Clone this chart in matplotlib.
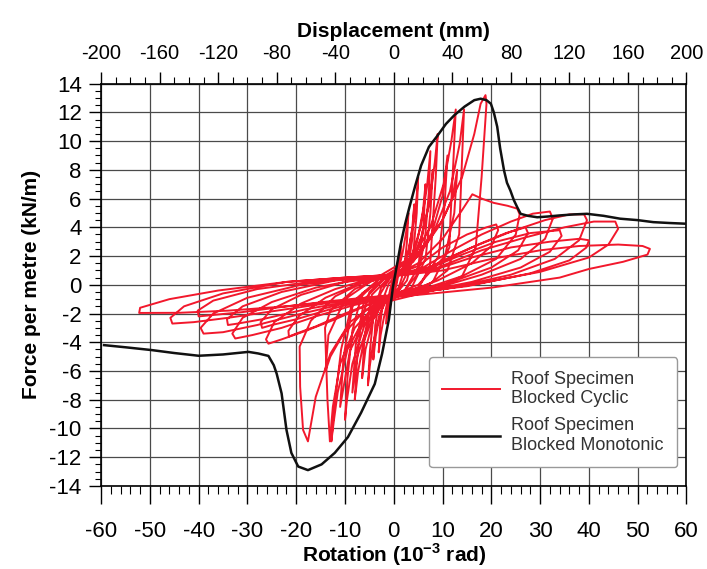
import matplotlib
matplotlib.use("Agg")
from matplotlib import pyplot as plt
from matplotlib.ticker import MultipleLocator, FixedLocator

plt.rcParams['font.family'] = ['Liberation Sans', 'DejaVu Sans']
plt.rcParams['axes.unicode_minus'] = False
plt.rcParams['mathtext.fontset'] = 'custom'
plt.rcParams['mathtext.rm'] = 'Liberation Sans'
plt.rcParams['mathtext.bf'] = 'Liberation Sans:bold'

# top axis ticks, displacement (mm)
disp_ticks = [-200, -160, -120, -80, -40, 0, 40, 80, 120, 160, 200]

# monotonic test, rotation (10^-3 rad) vs force (kN/m)
mono_rot = [-59.4, -55, -49.5, -45, -40, -35, -29.8, -27.8, -25.7, -24.6, -24.0,
            -23.0, -22.0, -21.0, -19.6, -17.6, -14.8, -12.1, -9.4, -6.7, -3.9,
            -2.4, -1.0, -0.2, 0.6, 1.4, 2.3, 3.2, 4.4, 5.6, 7.2, 9.0, 10.7, 12.4,
            14.5, 16.5, 17.8, 19.0, 19.9, 20.5, 21.2, 21.8, 22.6, 23.2, 23.9,
            24.6, 25.3, 26.0, 27.5, 29.4, 31.5, 34.1, 37, 39.6, 43, 46.4, 50,
            53.2, 56.5, 59.9]
mono_force = [-4.2, -4.35, -4.55, -4.75, -4.94, -4.85, -4.67, -4.78, -4.95, -5.6,
              -6.2, -7.56, -10.1, -11.7, -12.65, -12.9, -12.5, -11.7, -10.6,
              -8.9, -6.9, -4.8, -2.4, -0.2, 1.3, 2.8, 4.2, 5.4, 6.9, 8.3, 9.6,
              10.4, 11.2, 11.8, 12.4, 12.85, 12.95, 12.85, 12.6, 12.0, 11.0, 9.5,
              7.95, 7.1, 6.56, 5.9, 5.4, 4.94, 4.8, 4.7, 4.75, 4.83, 4.9, 4.94,
              4.8, 4.6, 4.5, 4.36, 4.3, 4.25]

# cyclic test, one list of (rotation, force) points per cycle
cyc_a = [(0, 0), (0.6, 0.9), (1.2, 2.2), (1.0, 1.1), (0.4, 0.0), (-0.5, -0.8),
         (-1.2, -2.2), (-1.0, -1.0), (-0.3, 0.1), (0.5, 0.8), (1.5, 2.7),
         (1.2, 1.2), (0.5, -0.1), (-0.6, -0.9), (-1.6, -2.7), (-1.3, -1.2),
         (-0.4, 0.2)]
cyc_b = [(0.8, 0.9), (1.8, 2.2), (2.5, 3.6), (3.0, 5.0), (2.7, 3.0), (2.1, 1.0),
         (1.0, -0.2), (-0.2, -0.6), (-1.2, -1.0), (-2.1, -2.4), (-2.7, -3.5),
         (-3.1, -4.7), (-2.8, -2.8), (-2.1, -0.9), (-1.0, 0.1), (0, 0.5)]
cyc_c = [(1.5, 0.9), (3.0, 2.4), (4.2, 4.6), (4.7, 6.2), (5.0, 7.5), (4.7, 5.0),
         (4.0, 2.2), (2.7, 0.3), (0.8, -0.5), (-1.5, -0.9), (-3.0, -2.2),
         (-4.3, -4.2), (-4.9, -5.6), (-5.3, -7.0), (-4.9, -4.6), (-4.1, -1.9),
         (-2.6, -0.2), (-0.6, 0.5)]
cyc_c2 = [(1.5, 0.8), (3.0, 2.2), (3.8, 4.0), (4.2, 5.6), (3.8, 3.2), (2.8, 0.9),
          (1.0, -0.4), (-1.2, -0.8), (-2.8, -2.0), (-3.7, -3.6), (-4.2, -5.2),
          (-3.8, -2.8), (-2.7, -0.6), (-0.8, 0.5)]
cyc_d = [(1.5, 0.7), (3.5, 1.8), (5.5, 4.0), (6.8, 6.8), (7.5, 9.3), (7.2, 6.5),
         (6.4, 3.2), (5.0, 0.8), (2.0, -0.5), (-1.0, -0.9), (-4.0, -2.0),
         (-6.2, -4.0), (-7.3, -6.0), (-8.0, -8.0), (-7.6, -5.5), (-6.8, -2.8),
         (-5.0, -0.5), (-2.0, 0.4), (0, 0.6)]
cyc_d2 = [(2.5, 1.0), (4.8, 3.0), (6.0, 5.2), (6.5, 7.0), (6.1, 4.2), (5.0, 1.2),
          (2.2, -0.4), (-1.5, -0.9), (-4.2, -2.4), (-5.8, -4.5), (-6.5, -6.5),
          (-6.0, -3.6), (-4.5, -0.7), (-1.0, 0.5)]
cyc_e = [(2, 0.8), (5, 2.5), (7.2, 5.5), (8.4, 8.5), (9.0, 10.5), (8.6, 7.5),
         (7.9, 3.8), (7.4, 1.2), (5, -0.2), (1, -0.7), (-3, -1.3), (-6, -2.8),
         (-8.5, -5.5), (-9.6, -8.0), (-10.0, -9.4), (-9.5, -6.5), (-8.5, -3.2),
         (-6.5, -0.6), (-2, 0.4), (0.5, 0.7)]
cyc_e2 = [(3, 1.2), (5.8, 3.4), (7.4, 6.0), (8.0, 8.0), (7.5, 5.0), (6.5, 1.8),
          (3.5, -0.3), (-1.5, -0.9), (-5, -2.5), (-7.5, -5.0), (-8.5, -7.5),
          (-7.8, -4.2), (-6, -1.0), (-2, 0.4)]
cyc_f = [(4, 2.0), (7.5, 4.0), (10.2, 7.0), (11.8, 10.0), (12.7, 12.2),
         (12.2, 8.5), (11.6, 4.5), (11.4, 2.6), (8, 0.2), (3, -0.6), (-2, -1.1),
         (-6, -2.3), (-9.5, -4.5), (-11.5, -7.5), (-12.3, -9.5), (-12.8, -10.9),
         (-12.2, -8.5), (-10.8, -4.5), (-8.5, -1.2), (-3, 0.4), (1, 0.8)]
cyc_f2 = [(4, 1.6), (7.8, 3.6), (10, 6.2), (11, 9.0), (10.4, 5.5), (9.2, 2.0),
          (5, -0.2), (-1, -0.8), (-5.5, -2.2), (-9, -4.6), (-11, -8.5),
          (-10.3, -5.0), (-8.4, -1.4), (-3, 0.4)]
cyc_g = [(4, 1.8), (8, 3.5), (11.5, 6.5), (13.5, 9.8), (14.4, 12.2), (13.9, 8.0),
         (13.4, 3.5), (11, 1.0), (6, -0.3), (1, -0.8), (-4, -1.5), (-8, -3.0),
         (-11, -5.5), (-12.5, -8.5), (-13.1, -10.9), (-13.6, -8.0),
         (-14.1, -3.0), (-13, -1.8), (-8, -0.3), (-3, 0.5), (1, 0.9)]
cyc_g2 = [(5, 2.0), (9.5, 4.2), (12, 6.0), (13, 8.0), (12.4, 5.0), (10.5, 2.0),
          (5, 0.0), (-1, -0.8), (-6, -1.8), (-10.5, -3.5), (-13, -5.0),
          (-14, -6.0), (-13.4, -3.5), (-10, -1.0), (-4, 0.4)]
cyc_h = [(5, 2.2), (10, 4.5), (14, 7.5), (16.5, 10.5), (17.8, 12.6),
         (18.8, 13.2), (19.0, 12.6), (18.0, 7.5), (16.8, 2.6), (14, 0.6),
         (8, -0.4), (2, -0.9), (-4, -1.4), (-9, -2.6), (-13, -4.8), (-16, -7.8),
         (-17.6, -10.9), (-18.6, -10.1), (-19.2, -7.1), (-19.3, -4.3),
         (-17, -2.5), (-12, -0.8), (-6, 0.2), (0, 0.6)]
cyc_i = [(5, 1.5), (10, 3.2), (14, 5.2), (16.1, 6.3), (18, 6.0), (20.5, 5.7),
         (23.3, 5.5), (25.3, 5.3), (25.8, 4.9), (25, 3.5), (21, 1.8), (14, 0.6),
         (6, -0.3), (0, -0.8), (-6, -1.5), (-12, -2.4), (-18, -3.2),
         (-23, -3.8), (-25.7, -4.1), (-26.2, -3.8), (-24.5, -2.6),
         (-19, -1.3), (-12, -0.3), (-5, 0.4), (0, 0.7)]
cyc_i2 = [(5, 1.3), (10, 2.6), (15, 3.5), (19, 4.0), (21, 4.2), (21.4, 3.8),
          (20, 2.7), (16, 1.5), (9, 0.3), (2, -0.6), (-4, -1.2), (-10, -2.0),
          (-16, -2.9), (-20, -3.4), (-21.5, -3.6), (-21.6, -3.2), (-19.5, -2.2),
          (-14, -0.9), (-7, 0.1), (0, 0.6)]
cyc_j = [(6, 1.2), (12, 2.4), (18, 3.5), (24, 4.4), (28.5, 4.95), (32, 5.1),
         (32.6, 4.6), (31, 3.2), (26, 1.8), (18, 0.7), (9, -0.2), (0, -0.8),
         (-8, -1.4), (-16, -2.2), (-23, -3.0), (-29, -3.5), (-32.5, -3.74),
         (-33.1, -3.4), (-31, -2.3), (-25, -1.2), (-16, -0.2), (-7, 0.4),
         (0, 0.7)]
cyc_j2 = [(6, 1.0), (12, 2.0), (18, 2.9), (23, 3.6), (27, 4.0), (27.5, 3.6),
          (25.5, 2.4), (20, 1.2), (11, 0.1), (2, -0.6), (-6, -1.1), (-13, -1.7),
          (-20, -2.4), (-25, -2.8), (-27, -3.0), (-27.3, -2.6), (-25, -1.7),
          (-19, -0.7), (-10, 0.2), (0, 0.6)]
cyc_k = [(8, 1.3), (16, 2.6), (24, 3.7), (31, 4.5), (36, 4.9), (39, 4.9),
         (39.6, 4.5), (38, 3.1), (33, 1.8), (24, 0.7), (12, -0.2), (0, -0.8),
         (-10, -1.3), (-20, -2.1), (-28, -2.8), (-35, -3.3), (-39, -3.4),
         (-39.6, -3.0), (-37, -2.0), (-30, -0.9), (-19, 0.0), (-8, 0.5),
         (0, 0.7)]
cyc_k2 = [(7, 1.1), (14, 2.1), (21, 3.0), (28, 3.6), (34, 3.8), (34.4, 3.4),
          (32, 2.3), (26, 1.2), (16, 0.2), (4, -0.6), (-8, -1.1), (-18, -1.7),
          (-27, -2.4), (-32, -2.7), (-34, -2.8), (-34.2, -2.4), (-31, -1.5),
          (-23, -0.5), (-12, 0.3), (0, 0.6)]
cyc_l = [(9, 1.2), (18, 2.4), (27, 3.3), (35, 4.0), (41, 4.4), (45.4, 4.4),
         (46, 3.9), (44, 2.8), (40, 1.9), (30, 0.9), (16, 0.0), (0, -0.8),
         (-12, -1.2), (-24, -1.8), (-34, -2.3), (-41, -2.6), (-45.4, -2.7),
         (-45.8, -2.3), (-43, -1.5), (-35, -0.6), (-22, 0.2), (-10, 0.5),
         (0, 0.7)]
cyc_l2 = [(8, 1.0), (16, 1.9), (24, 2.6), (32, 3.0), (38, 3.2), (40, 3.1),
          (39.5, 2.6), (36, 1.7), (28, 0.8), (15, -0.1), (0, -0.7), (-12, -1.1),
          (-22, -1.5), (-31, -1.9), (-37, -2.1), (-40, -2.2), (-40.2, -1.8),
          (-37, -1.1), (-28, -0.3), (-15, 0.3), (0, 0.6)]
cyc_m = [(10, 1.0), (20, 1.8), (30, 2.4), (38, 2.7), (46, 2.8), (51, 2.7),
         (52.5, 2.5), (52, 2.1), (47, 1.6), (40, 1.1), (34, 0.5), (20, -0.2),
         (5, -0.7), (-10, -1.1), (-22, -1.5), (-34, -1.8), (-44, -1.95),
         (-52.2, -1.96), (-52, -1.6), (-46, -1.0), (-36, -0.4), (-22, 0.2),
         (-10, 0.5), (0, 0.7)]

cycles = [cyc_a, cyc_b, cyc_c, cyc_c2, cyc_d, cyc_d2, cyc_e, cyc_e2, cyc_f,
          cyc_f2, cyc_g, cyc_g2, cyc_h, cyc_i, cyc_i2, cyc_j, cyc_j2, cyc_k,
          cyc_k2, cyc_l, cyc_l2, cyc_m]
cyc_pts = [p for c in cycles for p in c]
cyc_rot = [p[0] for p in cyc_pts]
cyc_force = [p[1] for p in cyc_pts]

fig = plt.figure(figsize=(7.07, 5.69), dpi=100)
ax = fig.add_axes([0.143, 0.146, 0.828, 0.707])

ax.plot(cyc_rot, cyc_force, color='#f2182c', lw=1.4,
        label='Roof Specimen\nBlocked Cyclic', zorder=3)
ax.plot(mono_rot, mono_force, color='#111111', lw=1.8,
        label='Roof Specimen\nBlocked Monotonic', zorder=4)

ax.set_xlim(-60, 60)
ax.set_ylim(-14, 14)
ax.xaxis.set_major_locator(MultipleLocator(10))
ax.xaxis.set_minor_locator(MultipleLocator(2))
ax.yaxis.set_major_locator(MultipleLocator(2))
ax.yaxis.set_minor_locator(MultipleLocator(0.5))
ax.grid(True, which='major', color='#4a4a4a', lw=0.9)
ax.set_axisbelow(True)

ax.tick_params(axis='x', which='major', direction='out', length=13, width=1,
               labelsize=16, pad=12)
ax.tick_params(axis='x', which='minor', direction='out', length=6, width=0.8)
ax.tick_params(axis='y', which='major', direction='out', length=9, width=1,
               labelsize=16, pad=5)
ax.tick_params(axis='y', which='minor', direction='out', length=4, width=0.8)
for s in ax.spines.values():
    s.set_linewidth(1.2)

ax.set_xlabel(r'Rotation (10$^{\mathbf{-3}}$ rad)', fontsize=15,
              fontweight='bold', labelpad=0)
ax.set_ylabel('Force per metre (kN/m)', fontsize=15, fontweight='bold',
              labelpad=6)

top = ax.secondary_xaxis('top', functions=(lambda r: r * 10 / 3,
                                           lambda d: d * 3 / 10))
top.set_xticks(disp_ticks)
top.xaxis.set_minor_locator(FixedLocator(list(range(-190, 200, 10))))
top.tick_params(which='major', direction='out', length=9, width=1,
                labelsize=14.5, pad=6)
top.tick_params(which='minor', direction='out', length=5, width=0.8)
top.set_xlabel('Displacement (mm)', fontsize=15, fontweight='bold', labelpad=5)

leg = ax.legend(loc='upper left', bbox_to_anchor=(0.56, 0.32), borderaxespad=0,
                fontsize=13, handlelength=3.2, frameon=True, fancybox=True,
                labelspacing=0.55, borderpad=0.75, handletextpad=0.6)
leg.get_frame().set_edgecolor('#999999')
leg.get_frame().set_linewidth(1.0)
leg.get_frame().set_alpha(1)
for t in leg.get_texts():
    t.set_color('#333333')

fig.savefig('out.png', dpi=100)
